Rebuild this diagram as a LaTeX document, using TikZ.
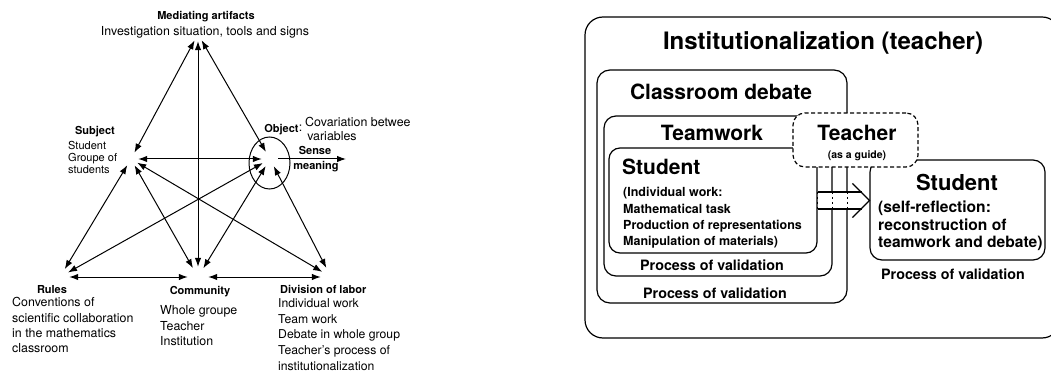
\documentclass[tikz,border=0pt]{standalone}
\usepackage{fontspec}
\setmainfont{TeX Gyre Heros}
\usetikzlibrary{arrows.meta,positioning}
\tikzset{myEdge/.style={line width=1pt,{Latex[length=9pt,width=6.5pt]}-{Latex[length=9pt,width=6.5pt]}}}
\tikzset{myVertex/.style={circle,inner sep=0pt,minimum size=#1}}
\tikzset{myBox/.style={draw,line width=1.2pt,rounded corners=#1,inner sep=0pt}}
\tikzset{myHead/.style={font=\fontsize{11}{13}\selectfont\bfseries,inner sep=0pt}}
\tikzset{myText/.style={font=\fontsize{12.4}{15.3}\selectfont,align=left,inner sep=0pt,anchor=north west}}
\tikzset{myTitle/.style={font=\fontsize{21}{24}\selectfont\bfseries,inner sep=0pt}}
\tikzset{myValid/.style={font=\fontsize{14.3}{17}\selectfont\bfseries,inner sep=0pt}}

\begin{document}
\begin{tikzpicture}[x=1pt,y=-1pt]
	\clip (0,0) rectangle (1051,371);
	%% activity system triangle
	\node[myVertex=14pt] (med) at (198,34) {};
	\node[myVertex=14pt] (subj) at (131,159) {};
	\node[myVertex=16pt] (obj) at (270,159) {};
	\node[myVertex=18pt] (rul) at (60,277) {};
	\node[myVertex=20pt] (com) at (198,277) {};
	\node[myVertex=20pt] (div) at (331,277) {};
	\coordinate (sense) at (346,159);
	\draw[line width=1pt] (269.5,163) ellipse [x radius=20.5, y radius=26];

	\draw[myEdge] (subj) -- (med);
	\draw[myEdge] (obj) -- (med);
	\draw[myEdge] (com) -- (med);
	\draw[myEdge] (subj) -- (obj);
	\draw[myEdge] (rul) -- (subj);
	\draw[myEdge] (com) -- (subj);
	\draw[myEdge] (div) -- (subj);
	\draw[myEdge] (rul) -- (obj);
	\draw[myEdge] (com) -- (obj);
	\draw[myEdge] (div) -- (obj);
	\draw[myEdge] (rul) -- (com);
	\draw[myEdge] (com) -- (div);
	\draw[line width=1pt,-{Latex[length=9pt,width=6.5pt]}] (obj) -- (sense);

	\node[myHead] (medT) at (206,17) {Mediating artifacts};
	\node[font=\fontsize{12.4}{15}\selectfont,inner sep=0pt] (medL) at (205,32) {Investigation situation, tools and signs};
	\node[myHead] (subjT) at (95,132) {Subject};
	\node[myText,font=\fontsize{11}{12}\selectfont] (subjL) at (68,141.5) {Student\\Groupe of\\students};
	\node[myHead] (objT) at (281.5,130) {Object};
	\node[font=\fontsize{12.4}{15}\selectfont,inner sep=0pt] (objC) at (300.5,128) {:};
	\node[myText,font=\fontsize{12.4}{14}\selectfont] (objL) at (305,117.5) {Covariation betwee\\\,variables};
	\node[myHead] (senseT) at (315,150) {Sense};
	\node[myHead] (meanT) at (316,167) {meaning};
	\node[myHead] (rulT) at (52,290) {Rules};
	\node[myText] (rulL) at (12,297.5) {Conventions of\\scientific collaboration\\in the mathematics\\classroom};
	\node[myHead] (comT) at (200,292) {Community};
	\node[myText] (comL) at (160,305.5) {Whole groupe\\Teacher\\Institution};
	\node[myHead,anchor=west] (divT) at (280,289) {Division of labor};
	\node[myText,font=\fontsize{12.2}{15.7}\selectfont] (divL) at (278,298.5) {Individual work\\Team work\\Debate in whole group\\Teacher's process of\\institutionalization};

	%% nested work settings
	\node[myBox=18pt,minimum width=475pt,minimum height=321pt] (outer) at (822.5,177.5) {};
	\node[myBox=13pt,minimum width=250pt,minimum height=233pt] (debate) at (722,186.5) {};
	\node[myBox=12pt,minimum width=228pt,minimum height=160pt] (team) at (718,196) {};
	\node[myBox=11pt,minimum width=208pt,minimum height=105pt] (stuL) at (713,200.5) {};
	\node[myBox=12pt,minimum width=175pt,minimum height=100pt] (stuR) at (957.5,210) {};
	\node[myBox=12pt,dashed,dash pattern=on 4pt off 2.5pt,fill=white,minimum width=125pt,minimum height=54pt] (teach) at (855.5,140) {};

	\node[font=\fontsize{24}{28}\selectfont\bfseries,inner sep=0pt] (instT) at (823,43) {Institutionalization (teacher)};
	\node[myTitle] (debateT) at (721,92) {Classroom debate};
	\node[myTitle] (teamT) at (712,133) {Teamwork};
	\node[myTitle,anchor=west] (stuLT) at (622,167) {Student};
	\node[myText,font=\fontsize{12.5}{16.3}\selectfont\bfseries] (stuLL) at (623,187.4) {(Individual work:\\Mathematical task\\Production of representations\\Manipulation of materials)};
	\node[myValid] (teamV) at (712,265) {Process of validation};
	\node[myValid] (debateV) at (715,293) {Process of validation};
	\node[myTitle] (teachT) at (857,133) {Teacher};
	\node[font=\fontsize{10.5}{12}\selectfont\bfseries,inner sep=0pt] (teachL) at (857,156) {(as a guide)};
	\node[myTitle,font=\fontsize{22}{26}\selectfont\bfseries] (stuRT) at (957,182) {Student};
	\node[myText,font=\fontsize{15.6}{17.5}\selectfont\bfseries] (stuRL) at (878,201) {(self-reflection:\\reconstruction of\\teamwork and debate)};
	\node[myValid] (stuRV) at (953,274) {Process of validation};

	%% hollow arrow from the student's own work to self-reflection
	\coordinate (arrTip) at (stuR.west |- stuL.east);
	\coordinate (arrTop) at ([yshift=8.5pt]stuL.east);
	\coordinate (arrBot) at ([yshift=-8.5pt]stuL.east);
	\fill[white] (arrTop) rectangle ([xshift=-9pt]arrBot -| arrTip);
	\draw[line width=1.2pt,dash pattern=on 2.5pt off 2.5pt] (arrTop) -- (arrBot)
		(team.east |- arrTop) -- (team.east |- arrBot)
		(debate.east |- arrTop) -- (debate.east |- arrBot);
	\draw[line width=1.2pt] (arrTop) -- ++(44,0) (arrBot) -- ++(44,0);
	\draw[line width=1.2pt] ([xshift=-17pt,yshift=17pt]arrTip) -- (arrTip) -- ([xshift=-17pt,yshift=-17pt]arrTip);
\end{tikzpicture}
\end{document}
